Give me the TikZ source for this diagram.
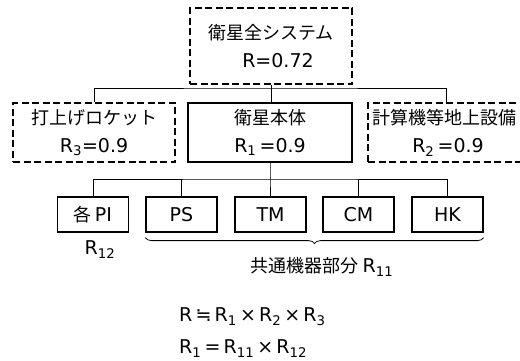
\documentclass[tikz,border=0pt]{standalone}
\usepackage{fontspec}
\setmainfont{Noto Sans CJK JP}
\newfontfamily\latfont{DejaVu Sans}
\usetikzlibrary{positioning,decorations.pathreplacing}

% latin text in a wider face
\newcommand\lt[1]{{\latfont\fontsize{19}{19}\selectfont #1}}
\newcommand\idx[1]{\textsubscript{#1}}

\tikzset{
  unit/.style={draw,line width=1.3pt,inner sep=0pt,align=center,
    font=\fontsize{18}{28}\selectfont},
  dashunit/.style={unit,dash pattern=on 7pt off 3.5pt},
  subunit/.style={draw,line width=1.2pt,inner sep=0pt,
    minimum width=71pt,minimum height=35pt,font=\fontsize{18}{22}\selectfont},
  link/.style={line width=0.8pt},
  lbl/.style={inner sep=0pt,font=\fontsize{18}{22}\selectfont}
}

\begin{document}
\begin{tikzpicture}[x=1pt,y=-1pt]
  \useasboundingbox (0,0) rectangle (520,360);

  % top level
  \node[dashunit,minimum width=162pt,minimum height=76pt] (sys) at (271,46)
    {衛星全システム\\\hspace*{14pt}\lt{R=0.72}};

  % second level
  \node[dashunit,minimum width=162pt,minimum height=59pt] (rocket) at (94,132.5)
    {打上げロケット\\\lt{R\idx{3}=0.9}};
  \node[unit,line width=1.8pt,minimum width=164pt,minimum height=59pt] (body) at (270,132.5)
    {衛星本体\\\lt{R\idx{1}\,=0.9}};
  \node[dashunit,minimum width=160pt,minimum height=59pt] (ground) at (448,132.5)
    {\hspace*{-8pt}計算機等地上設備\\\lt{R\idx{2}\,=0.9}};

  % third level
  \node[subunit] (pi) at (93,214.5) {各\,\lt{PI}};
  \node[subunit] (ps) at (181.5,214.5) {\lt{PS}};
  \node[subunit] (tm) at (270.5,214.5) {\lt{TM}};
  \node[subunit] (cm) at (358.5,214.5) {\lt{CM}};
  \node[subunit] (hk) at (447.5,214.5) {\lt{HK}};

  % connectors
  \coordinate (j1) at (sys.south |- 0,88);
  \draw[link] (sys.south) -- (j1);
  \draw[link] (rocket.north) |- (j1) -| ([xshift=-2pt]ground.north);
  \draw[link] (j1) -- (j1 |- body.north);

  \coordinate (j2) at (body.south |- 0,179);
  \draw[link] (body.south) -- (j2) -- (j2 |- tm.north);
  \draw[link] (pi.north) |- (j2) -| (hk.north);
  \draw[link] (ps.north) -- (ps.north |- j2);
  \draw[link] (cm.north) -- (cm.north |- j2);

  % common part
  \draw[link,decorate,decoration={brace,mirror,amplitude=6pt}]
    (ps.south west) ++(0,5) coordinate (b1) -- (hk.south east |- b1);

  \node[lbl] (r12) at (100,250) {\lt{R\idx{12}}};
  \node[lbl] (common) at (322,267) {共通機器部分 \lt{R\idx{11}}};

  % formulas
  \node[lbl,anchor=west] (f1) at (179,317)
    {\lt{R\,≒\,R\idx{1}\,×\,R\idx{2}\,×\,R\idx{3}}};
  \node[lbl,anchor=west] (f2) at (179,349)
    {\lt{R\idx{1}\,=\,R\idx{11}\,×\,R\idx{12}}};
\end{tikzpicture}
\end{document}
